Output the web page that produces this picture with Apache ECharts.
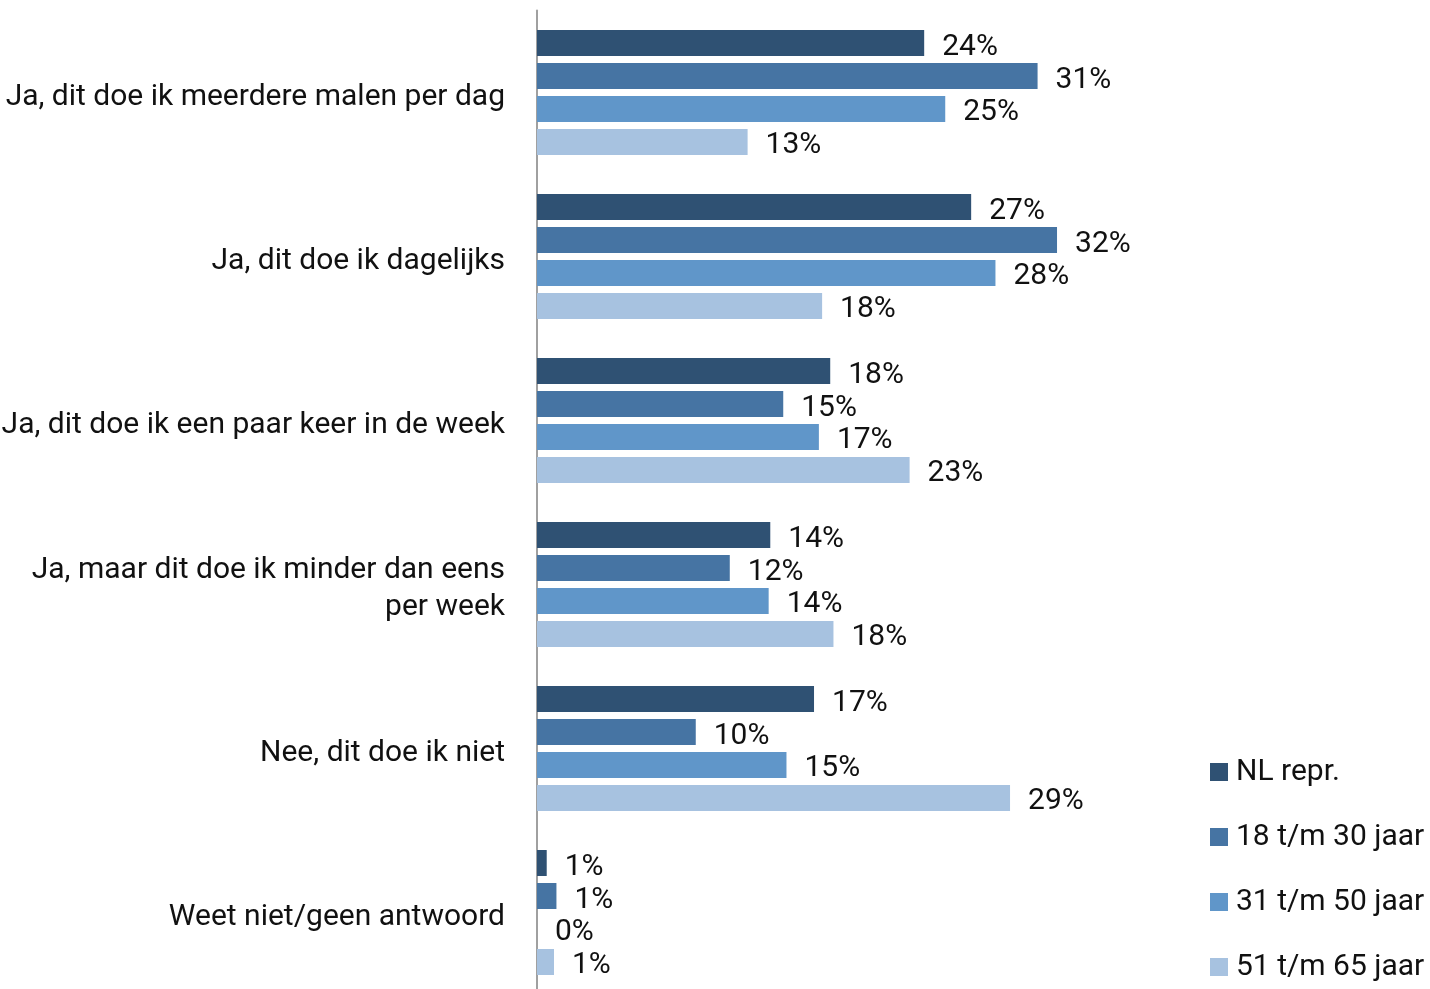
<!DOCTYPE html>
<html><head><meta charset="utf-8">
<script src="https://cdn.jsdelivr.net/npm/echarts@6/dist/echarts.min.js"></script>
<style>html,body{margin:0;padding:0;background:#fff}#c{width:1430px;height:989px}</style>
</head><body><div id="c"></div>
<script>
const categories = [
  "Ja, dit doe ik meerdere malen per dag",
  "Ja, dit doe ik dagelijks",
  "Ja, dit doe ik een paar keer in de week",
  "Ja, maar dit doe ik minder dan eens\nper week",
  "Nee, dit doe ik niet",
  "Weet niet/geen antwoord"
];
const seriesNames = ["NL repr.", "18 t/m 30 jaar", "31 t/m 50 jaar", "51 t/m 65 jaar"];
const nlRepr   = [23.9, 26.8, 18.1, 14.4, 17.1, 0.6];
const age18_30 = [30.9, 32.1, 15.2, 11.9, 9.8, 1.2];
const age31_50 = [25.2, 28.3, 17.4, 14.3, 15.4, 0];
const age51_65 = [13.0, 17.6, 23.0, 18.3, 29.2, 1.05];
const colors = ["#2F5173", "#4674A3", "#6096C9", "#A7C2E0"];
const FONT = "Roboto";

const allData = [nlRepr, age18_30, age31_50, age51_65];
const chart = echarts.init(document.getElementById('c'));
chart.setOption({
  animation: false,
  textStyle: { fontFamily: FONT },
  legend: {
    orient: 'vertical', left: 1210, top: 757, padding: 0,
    itemWidth: 18, itemHeight: 18, itemGap: 35,
    icon: 'rect',
    textStyle: { fontSize: 30, color: '#111', fontFamily: FONT, padding: [0, 0, 0, 3] },
    data: seriesNames
  },
  grid: { left: 537, width: 810, top: 10.5, height: 984, containLabel: false, outerBoundsMode: 'none' },
  xAxis: { type: 'value', min: 0, max: 50, show: false },
  yAxis: {
    type: 'category', data: categories, inverse: true,
    axisLine: { show: true, lineStyle: { color: '#A0A0A0', width: 2 } },
    axisTick: { show: false },
    axisLabel: {
      fontSize: 30, color: '#111', margin: 32, lineHeight: 38, fontFamily: FONT, align: 'right',
      formatter: v => v.split('\n').map((l, i) => (i === 0 ? '{a|' : '{b|') + l + '}').join('\n'),
      rich: {
        a: { fontSize: 30, color: '#111', fontFamily: FONT, lineHeight: 38, padding: [10, 0, 0, 0], align: 'right' },
        b: { fontSize: 30, color: '#111', fontFamily: FONT, lineHeight: 38, padding: [7, 0, 0, 0], align: 'right' }
      }
    }
  },
  series: allData.map((d, i) => ({
    name: seriesNames[i], type: 'bar', data: d,
    barGap: '27%', barCategoryGap: '23.8%',
    itemStyle: { color: colors[i] },
    label: {
      show: true, position: 'right', distance: 18, offset: [0, 4],
      fontSize: 30, color: '#111', fontFamily: FONT,
      formatter: p => Math.round(p.value) + '%'
    }
  }))
});
</script></body></html>
